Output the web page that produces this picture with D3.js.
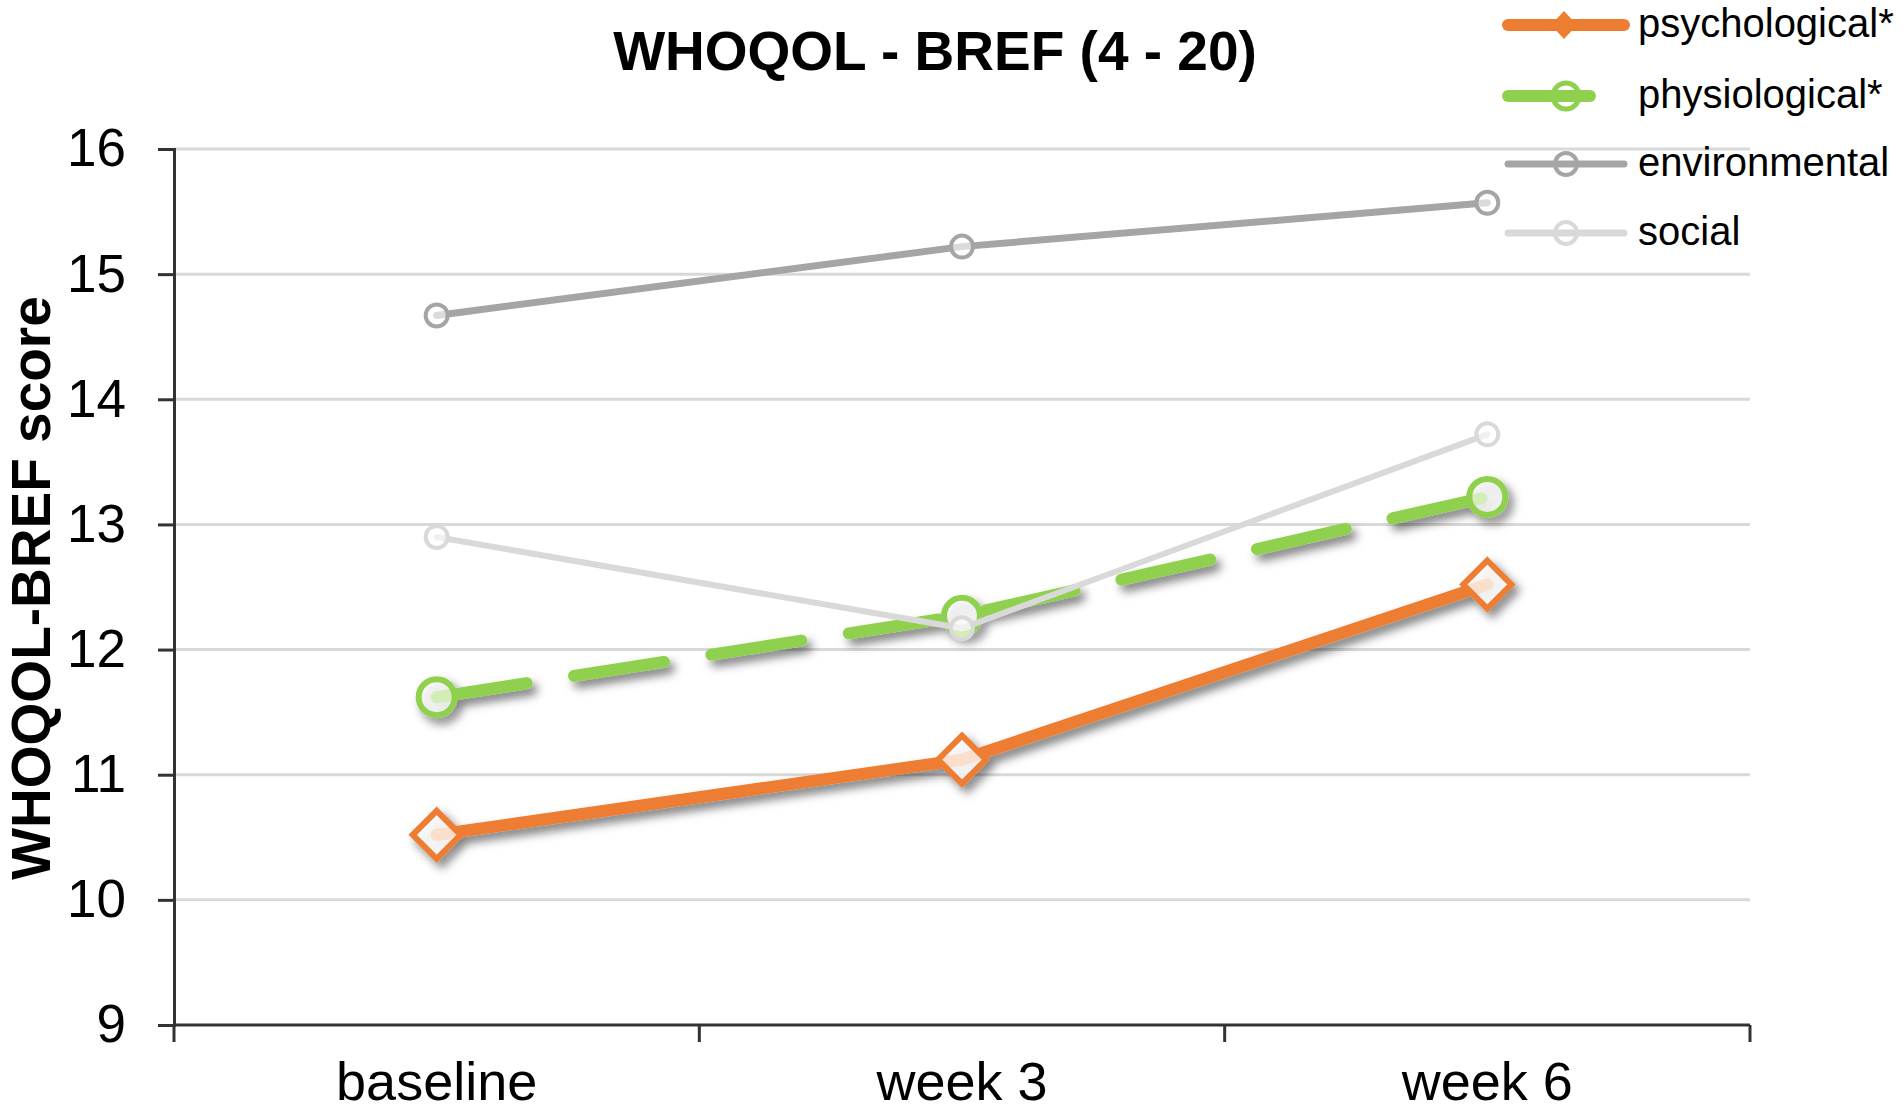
<!DOCTYPE html>
<html>
<head>
<meta charset="utf-8">
<script src="https://cdn.jsdelivr.net/npm/d3@7"></script>
<style>
  body { margin: 0; background: #fff; }
  svg text { font-family: "Liberation Sans", Arial, sans-serif; fill: #000; }
</style>
</head>
<body>
<svg id="chart" width="1904" height="1112"></svg>
<script>
// data
const timepoints = ["baseline", "week 3", "week 6"];
const psychological = [10.52, 11.12, 12.52];
const physiological = [11.62, 12.27, 13.22];
const environmental = [14.67, 15.22, 15.57];
const social = [12.9, 12.17, 13.72];
const yTicks = [9, 10, 11, 12, 13, 14, 15, 16];

const series = [
  { name: "psychological*", values: psychological, color: "#ed7d31", width: 12, marker: "diamond", size: 24, stroke: 6, dash: null, shadow: true },
  { name: "physiological*", values: physiological, color: "#8fd14f", width: 12, marker: "circle", size: 18, stroke: 6, dash: "91,48", shadow: true },
  { name: "environmental", values: environmental, color: "#a5a5a5", width: 7, marker: "circle", size: 11, stroke: 4, dash: null, shadow: false },
  { name: "social", values: social, color: "#d9d9d9", width: 6, marker: "circle", size: 11, stroke: 4, dash: null, shadow: false }
];

const svg = d3.select("#chart");
const plotLeft = 174, plotRight = 1750, plotTop = 149, plotBottom = 1025;

const x = d3.scaleBand().domain(timepoints).range([plotLeft, plotRight]);
const y = d3.scaleLinear().domain([9, 16]).range([plotBottom, plotTop]);

// drop shadow used by the two highlighted series
const defs = svg.append("defs");
const f = defs.append("filter").attr("id", "shadow")
  .attr("x", "-20%").attr("y", "-20%").attr("width", "140%").attr("height", "140%");
f.append("feDropShadow").attr("dx", 5).attr("dy", 6).attr("stdDeviation", 5)
  .attr("flood-color", "#000").attr("flood-opacity", 0.5);

// gridlines
svg.append("g")
  .selectAll("line")
  .data(yTicks.filter(d => d > 9))
  .enter().append("line")
  .attr("x1", plotLeft).attr("x2", plotRight)
  .attr("y1", d => y(d)).attr("y2", d => y(d))
  .attr("stroke", "#d9d9d9").attr("stroke-width", 3);

// y axis
const yAxis = svg.append("g")
  .attr("transform", `translate(${plotLeft},0)`)
  .call(d3.axisLeft(y).tickValues(yTicks).tickFormat(d3.format("d")).tickSize(16).tickPadding(32));
yAxis.select(".domain").attr("stroke", "#333").attr("stroke-width", 3);
yAxis.selectAll(".tick line").attr("stroke", "#333").attr("stroke-width", 3);
yAxis.selectAll(".tick text")
  .attr("font-size", 53).attr("fill", "#000")
  .style("font-family", "'Liberation Sans', Arial, sans-serif");

// x axis with boundary ticks
const xEdges = [plotLeft].concat(timepoints.map(t => x(t) + x.bandwidth()));
const xAxis = svg.append("g").attr("transform", `translate(0,${plotBottom})`);
xAxis.append("line").attr("x1", plotLeft).attr("x2", plotRight)
  .attr("stroke", "#333").attr("stroke-width", 3);
xAxis.selectAll(".edge")
  .data(xEdges)
  .enter().append("line")
  .attr("x1", d => d).attr("x2", d => d)
  .attr("y1", 0).attr("y2", 17)
  .attr("stroke", "#333").attr("stroke-width", 3);
xAxis.selectAll("text")
  .data(timepoints)
  .enter().append("text")
  .attr("x", d => x(d) + x.bandwidth() / 2)
  .attr("y", 75)
  .attr("text-anchor", "middle")
  .attr("font-size", 54)
  .text(d => d);

const cx = d => x(d) + x.bandwidth() / 2;
const line = d3.line()
  .x((d, i) => cx(timepoints[i]))
  .y(d => y(d));

function drawMarker(g, s, px, py) {
  const r = s.size;
  if (s.marker === "diamond") {
    g.append("path")
      .attr("d", `M${px},${py - r}L${px + r},${py}L${px},${py + r}L${px - r},${py}Z`)
      .attr("fill", "#fff").attr("fill-opacity", 0.75)
      .attr("stroke", s.color).attr("stroke-width", s.stroke);
  } else {
    g.append("circle")
      .attr("cx", px).attr("cy", py).attr("r", r)
      .attr("fill", "#fff").attr("fill-opacity", 0.6)
      .attr("stroke", s.color).attr("stroke-width", s.stroke);
  }
}

// series
series.forEach(s => {
  const g = svg.append("g");
  if (s.shadow) g.attr("filter", "url(#shadow)");
  g.append("path")
    .datum(s.values)
    .attr("d", line)
    .attr("fill", "none")
    .attr("stroke", s.color)
    .attr("stroke-width", s.width)
    .attr("stroke-linecap", "round")
    .attr("stroke-dasharray", s.dash);
  s.values.forEach((v, i) => drawMarker(g, s, cx(timepoints[i]), y(v)));
});

// title
svg.append("text")
  .attr("x", 935).attr("y", 70)
  .attr("text-anchor", "middle")
  .attr("font-size", 55).attr("font-weight", "bold")
  .text("WHOQOL - BREF (4 - 20)");

// y axis title
svg.append("text")
  .attr("transform", "translate(50,588) rotate(-90)")
  .attr("text-anchor", "middle")
  .attr("font-size", 55).attr("font-weight", "bold")
  .text("WHOQOL-BREF score");

// legend
const legendY = [25, 96, 164, 233];
const legend = svg.append("g");
series.forEach((s, i) => {
  const ly = legendY[i];
  const g = legend.append("g");
  g.append("line")
    .attr("x1", 1508).attr("x2", s.dash ? 1590 : 1624)
    .attr("y1", ly).attr("y2", ly)
    .attr("stroke", s.color).attr("stroke-width", s.shadow ? 12 : 7)
    .attr("stroke-linecap", "round");
  if (s.marker === "diamond") {
    g.append("path")
      .attr("d", `M1564,${ly - 14}L1577,${ly}L1564,${ly + 14}L1551,${ly}Z`)
      .attr("fill", s.color);
  } else {
    g.append("circle")
      .attr("cx", 1566).attr("cy", ly).attr("r", s.shadow ? 13 : 11)
      .attr("fill", "none")
      .attr("stroke", s.color).attr("stroke-width", s.shadow ? 5 : 4);
  }
  g.append("text")
    .attr("x", 1638).attr("y", ly + 12)
    .attr("font-size", 40)
    .text(s.name);
});
</script>
</body>
</html>
